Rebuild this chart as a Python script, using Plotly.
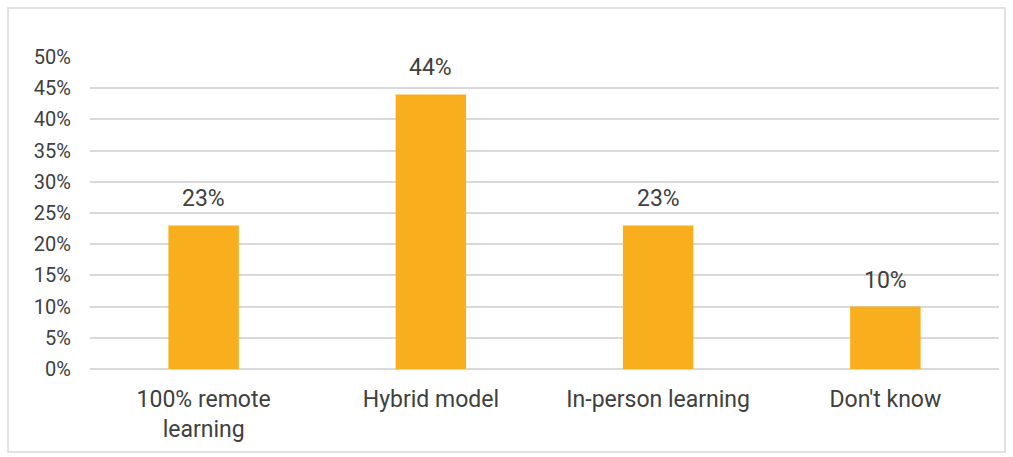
import plotly.graph_objects as go

# Survey responses: preferred learning model
categories = ["100% remote<br>learning", "Hybrid model", "In-person learning", "Don't know"]
shares = [23, 44, 23, 10]
y_ticks = [0, 5, 10, 15, 20, 25, 30, 35, 40, 45, 50]

BAR_COLOR = "#F9AE1E"
TEXT_COLOR = "#404040"
FONT = "Roboto"

fig = go.Figure(
    go.Bar(
        x=categories,
        y=shares,
        marker=dict(color=BAR_COLOR, line=dict(width=0)),
        hoverinfo="skip",
    )
)

# Value labels above each bar
for cat, val in zip(categories, shares):
    fig.add_annotation(
        x=cat, y=val, text=f"{val}%", showarrow=False,
        yanchor="bottom", yshift=11,
        font=dict(family=FONT, size=23, color=TEXT_COLOR),
    )

# Outer frame around the whole chart
L, R, T, B = 90, 14, 57, 88
W, H = 1013, 457
pw, ph = W - L - R, H - T - B
fig.add_shape(
    type="rect", xref="paper", yref="paper",
    x0=(8 - L) / pw, x1=(W - 8 - L) / pw,
    y0=(H - B - (H - 5)) / ph, y1=(H - B - 8) / ph,
    line=dict(color="#D9D9D9", width=1.5), fillcolor="rgba(0,0,0,0)",
    layer="below",
)

fig.update_layout(
    width=W, height=H,
    margin=dict(l=L, r=R, t=T, b=B),
    paper_bgcolor="white", plot_bgcolor="white",
    bargap=0.69,
    showlegend=False,
    font=dict(family=FONT, size=20, color=TEXT_COLOR),
    xaxis=dict(
        showgrid=False, showline=False, ticks="",
        ticklabelstandoff=14,
        tickfont=dict(family=FONT, size=23, color=TEXT_COLOR),
        fixedrange=True,
    ),
    yaxis=dict(
        range=[0, 50], tickvals=y_ticks,
        ticktext=[f"{v}%" for v in y_ticks],
        showgrid=True, gridcolor="#D9D9D9", gridwidth=1.5,
        zeroline=True, zerolinecolor="#D9D9D9", zerolinewidth=1.5,
        showline=False, ticks="", ticklabelstandoff=18,
        tickfont=dict(family=FONT, size=20, color=TEXT_COLOR),
        fixedrange=True,
    ),
)

fig.write_html("out.html", config={"displayModeBar": False})
